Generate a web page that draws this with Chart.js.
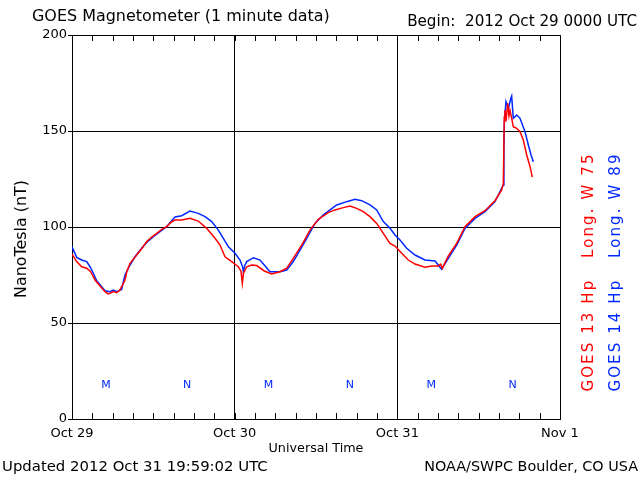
<!DOCTYPE html>
<html><head><meta charset="utf-8">
<script src="https://cdn.jsdelivr.net/npm/chart.js@4/dist/chart.umd.min.js"></script>
<style>html,body{margin:0;padding:0;background:#fff}canvas{display:block}</style>
</head><body>
<canvas id="c" width="640" height="480"></canvas>
<script>
// ---- data (hours since 2012 Oct 29 0000 UTC, nT) ----
const goes13Hours = [0,0.69,1.43,2.17,2.76,3.39,4.13,4.87,5.3,5.61,6.1,6.6,7.0,7.33,7.82,8.1,8.56,9.55,10.3,11.02,11.8,12.5,13.2,13.97,14.6,15.2,16.18,17.41,18.63,19.87,21.1,21.84,22.57,23.56,24.54,24.93,25.13,25.3,25.78,26.51,27.25,28.37,29.46,30.69,31.68,32.65,33.89,35.11,36.34,37.81,38.8,40.03,41.02,42.0,42.98,43.97,44.96,45.93,46.92,47.66,48.64,49.62,50.61,52.08,53.07,54.04,54.4,54.63,55.52,56.76,57.98,59.46,60.93,62.41,63.4,63.64,63.78,63.88,64.04,64.28,64.47,64.62,64.87,65.11,65.61,66.1,66.59,67.09,67.58,67.92];
const goes13Values = [85.9,82,79.3,78.5,76.7,72.4,69.3,66.3,65.2,65.5,66.4,65.8,66.9,68.9,72.4,77,81.1,85.4,88.8,92.4,94.9,96.7,98.6,100.2,102.4,103.6,103.6,104.5,103.1,99.3,94.1,90.6,84.5,82,79.3,77,70.7,76,79.3,80.2,79.9,77.1,75.5,76.7,78.5,83.7,90.6,98.4,104,107.5,108.9,110.1,110.9,109.7,108,105.4,101.9,96.7,91.5,90.1,86.3,82.8,80.7,79,79.7,79.7,80.6,78.5,84.9,91.5,100.2,105.4,108.5,113.7,119.3,122.7,157.4,160.9,155,164.4,158,160.9,156.6,152.2,151.4,149.6,145.3,137.5,131.4,126];
const goes14Hours = [0,0.69,1.43,2.17,2.66,3.15,3.64,4.38,4.87,5.61,6.1,6.6,7.33,7.57,7.82,8.56,9.29,10.28,11.02,12.0,12.98,13.97,14.65,15.2,16.18,17.41,18.63,19.62,20.61,21.59,22.33,23.07,24.05,24.79,25.19,25.28,25.5,25.78,26.77,27.74,28.37,29.21,30.69,31.68,32.65,33.64,34.63,35.85,37.08,38.07,39.05,40.53,41.75,42.74,43.97,44.96,45.93,46.92,47.66,48.39,49.38,50.61,52.08,53.56,54.04,54.53,55.52,56.76,57.98,59.46,60.93,62.41,63.64,63.72,63.8,64.03,64.4,64.77,64.87,65.11,65.61,66.1,66.84,67.33,67.73,68.07];
const goes14Values = [89.7,84.2,82.8,82,79.3,75.9,72,68.9,66.8,66.3,67.2,66.3,67.5,71.5,75,80.2,84.5,88.9,92,95,97.6,100.2,103,105.2,105.9,108.3,107.1,105.4,102.8,98.4,94.1,89.7,86.3,82.8,79,76.7,80,82,84,82.8,80.2,76.7,76.7,77.6,82,88,94.1,101.9,106.3,108.9,111.5,113.2,114.4,113.7,111.5,108.9,102.8,99.3,95.8,93.2,88.9,85.4,82.8,82.3,80.2,78,83.7,90.6,99.3,104.5,108,113.2,121.9,141,155,165.3,162,167.3,168.2,156.6,158.3,156.6,149.6,142.7,137.5,134];
const dayTickHours = [0,24,48,72];
const dayTickLabels = ['Oct 29','Oct 30','Oct 31','Nov 1'];
const mnHours = [5,17,29,41,53,65];
const mnLabels = ['M','N','M','N','M','N'];
const seriesNames = ['GOES 13 Hp   Long. W 75','GOES 14 Hp   Long. W 89'];

const FONT = '"DejaVu Sans", sans-serif';
const RED = '#ff0000', BLUE = '#0028ff';

function fitFont(ctx, text, w) {
  ctx.font = '20px ' + FONT;
  const m = ctx.measureText(text).width;
  ctx.font = (20 * w / m).toFixed(2) + 'px ' + FONT;
}
function spacedFont(ctx, text, size, w) {
  ctx.font = size + 'px ' + FONT;
  ctx.letterSpacing = '0px';
  const m = ctx.measureText(text).width;
  const sp = Math.max(0, (w - m) / (text.length - 1));
  ctx.letterSpacing = sp.toFixed(2) + 'px';
}

const textPlugin = {
  id: 'texts',
  afterDraw(chart) {
    const ctx = chart.ctx, xs = chart.scales.x, a = chart.chartArea;
    ctx.save();
    // minor ticks every 3 hours, pointing into the plot
    ctx.strokeStyle = '#000'; ctx.lineWidth = 1;
    ctx.beginPath();
    for (let h = 0; h <= 72; h += 3) {
      const px = Math.round(xs.getPixelForValue(h)) + 0.5;
      ctx.moveTo(px, a.top); ctx.lineTo(px, a.top + 6);
      ctx.moveTo(px, a.bottom); ctx.lineTo(px, a.bottom - 6);
    }
    ctx.stroke();

    ctx.fillStyle = '#000';
    ctx.textBaseline = 'middle';
    // title
    ctx.textAlign = 'left';
    fitFont(ctx, 'GOES Magnetometer (1 minute data)', 298);
    ctx.fillText('GOES Magnetometer (1 minute data)', 32, 17);
    ctx.textAlign = 'right';
    fitFont(ctx, 'Begin:  2012 Oct 29 0000 UTC', 230);
    ctx.fillText('Begin:  2012 Oct 29 0000 UTC', 637, 22);
    // footer
    ctx.textAlign = 'left';
    fitFont(ctx, 'Updated 2012 Oct 31 19:59:02 UTC', 266);
    ctx.fillText('Updated 2012 Oct 31 19:59:02 UTC', 2, 467);
    ctx.textAlign = 'right';
    fitFont(ctx, 'NOAA/SWPC Boulder, CO USA', 214);
    ctx.fillText('NOAA/SWPC Boulder, CO USA', 638, 467);
    // x title
    ctx.textAlign = 'center';
    fitFont(ctx, 'Universal Time', 95);
    ctx.fillText('Universal Time', 316, 449);
    // y title
    ctx.save();
    ctx.translate(22, 239); ctx.rotate(-Math.PI / 2);
    fitFont(ctx, 'NanoTesla (nT)', 118);
    ctx.fillText('NanoTesla (nT)', 0, 0);
    ctx.restore();
    // legend (rotated)
    const lx = [589, 616], cols = [RED, BLUE];
    for (let i = 0; i < 2; i++) {
      ctx.save();
      ctx.translate(lx[i], 272); ctx.rotate(-Math.PI / 2);
      ctx.fillStyle = cols[i];
      ctx.textAlign = 'center';
      spacedFont(ctx, seriesNames[i], 15, 237);
      ctx.fillText(seriesNames[i], 0, 0);
      ctx.restore();
    }
    ctx.letterSpacing = '0px';
    // M / N markers
    ctx.fillStyle = BLUE;
    ctx.textAlign = 'center';
    ctx.font = '11px ' + FONT;
    for (let i = 0; i < mnHours.length; i++) {
      ctx.fillText(mnLabels[i], xs.getPixelForValue(mnHours[i]), 385);
    }
    ctx.restore();
  }
};

new Chart(document.getElementById('c'), {
  type: 'line',
  data: {
    datasets: [
      { label: seriesNames[0], data: goes13Hours.map((h, i) => ({x: h, y: goes13Values[i]})),
        borderColor: RED, borderWidth: 1.5, pointRadius: 0, tension: 0, fill: false },
      { label: seriesNames[1], data: goes14Hours.map((h, i) => ({x: h, y: goes14Values[i]})),
        borderColor: BLUE, borderWidth: 1.5, pointRadius: 0, tension: 0, fill: false }
    ]
  },
  options: {
    responsive: false, animation: false,
    layout: { padding: { left: 0, right: 80, top: 35, bottom: 0 } },
    plugins: { legend: { display: false }, tooltip: { enabled: false } },
    scales: {
      x: {
        type: 'linear', min: 0, max: 72,
        afterFit(s) { s.height = 61; },
        afterBuildTicks(s) { s.ticks = dayTickHours.map(v => ({value: v})); },
        ticks: { autoSkip: false, maxRotation: 0, padding: 7, color: '#000',
          font: { family: FONT, size: 13 },
          callback: (v) => dayTickLabels[dayTickHours.indexOf(v)] },
        grid: { color: '#000', lineWidth: 1, drawTicks: false },
        border: { color: '#000', width: 1 }
      },
      y: {
        min: 0, max: 200,
        afterFit(s) { s.width = 72; },
        ticks: { stepSize: 50, padding: 1, color: '#000', font: { family: FONT, size: 13 } },
        grid: { color: '#000', lineWidth: 1, tickLength: 4 },
        border: { color: '#000', width: 1 }
      }
    }
  },
  plugins: [textPlugin]
});
</script>
</body></html>
